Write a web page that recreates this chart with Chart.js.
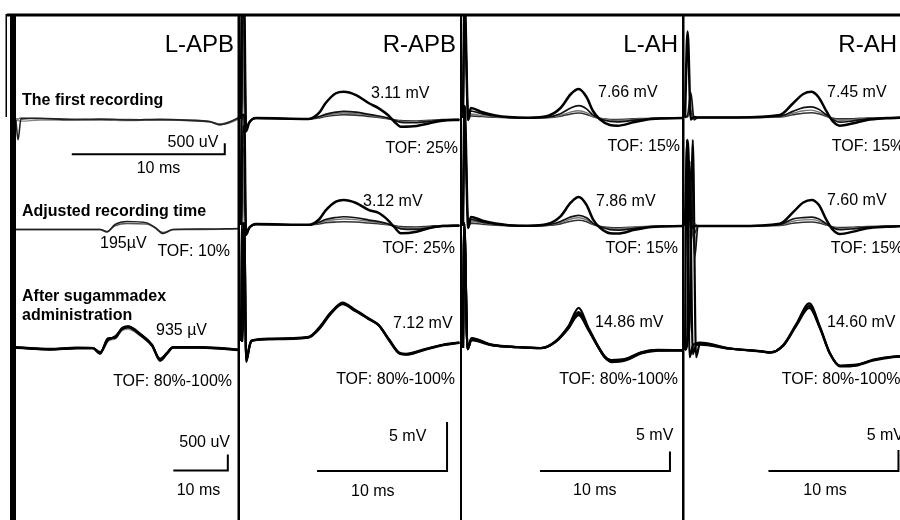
<!DOCTYPE html>
<html>
<head>
<meta charset="utf-8">
<script src="https://cdn.jsdelivr.net/npm/chart.js@4.4.1/dist/chart.umd.min.js"></script>
<style>
  html, body { margin: 0; padding: 0; background: #fff; }
  #wrap { width: 900px; height: 520px; }
</style>
</head>
<body>
<div id="wrap"><canvas id="emg" width="900" height="520"></canvas></div>
<script>
// columns = muscles, rows = recording state
const muscles = ['L-APB', 'R-APB', 'L-AH', 'R-AH'];
const rowLabels = [['The first recording'], ['Adjusted recording time'], ['After sugammadex', 'administration']];

const ampLabels = [
  ['', '195µV', '935 µV'],
  ['3.11 mV', '3.12 mV', '7.12 mV'],
  ['7.66 mV', '7.86 mV', '14.86 mV'],
  ['7.45 mV', '7.60 mV', '14.60 mV']
];
const tofLabels = [
  ['', 'TOF: 10%', 'TOF: 80%-100%'],
  ['TOF: 25%', 'TOF: 25%', 'TOF: 80%-100%'],
  ['TOF: 15%', 'TOF: 15%', 'TOF: 80%-100%'],
  ['TOF: 15%', 'TOF: 15%', 'TOF: 80%-100%']
];

// ---- waveforms: time in ms after stimulus, amplitude in mV ----
// L-APB
const tLapb1 = [0.06, 0.2, 0.39, 1.63, 3.59, 5.56, 7.52, 9.48, 11.44, 12.75, 13.4, 13.92, 14.7];
const lapb1 = [
  [0, -0.9, 0.05, 0.08, 0.02, 0.04, 0.0, 0.03, -0.02, -0.08, -0.22, -0.13, 0.14],
  [0.05, 0.04, 0.1, 0.06, 0.04, 0.02, 0.03, 0.0, 0.01, -0.06, -0.18, -0.1, 0.1],
  [-0.03, -0.03, -0.05, 0.0, -0.02, 0.0, -0.03, 0.02, -0.04, -0.1, -0.2, -0.16, 0.06]
];
const tLapb2 = [0.06, 2.9, 5.56, 6.01, 6.54, 7.32, 8.63, 9.15, 9.67, 10.33, 12.09, 14.7];
const lapb2 = [
  [0.0, 0.0, 0.0, -0.042, 0.083, 0.133, 0.108, 0.033, -0.067, 0.0, 0.008, 0.017],
  [0.0, 0.0, 0.0, -0.03, 0.06, 0.1, 0.09, 0.03, -0.05, 0.0, 0.0, 0.01]
];
const tLapb3 = [0, 6.42, 11.38, 14.31, 15.6, 17.06, 18.35, 19.63, 20.73, 22.94, 25.14, 26.61, 27.89, 28.99, 33.94, 41.28];
const lapb3 = [
  [0.022, -0.041, 0, 0, -0.166, 0.272, 0.334, 0.616, 0.666, 0.4375, 0.094, -0.375, -0.166, 0.022, 0.022, -0.0625],
  [0.03, -0.03, 0.01, 0.0, -0.13, 0.24, 0.36, 0.58, 0.64, 0.41, 0.07, -0.34, -0.15, 0.03, 0.03, -0.05],
  [0.01, -0.05, -0.01, -0.01, -0.18, 0.3, 0.31, 0.62, 0.68, 0.45, 0.1, -0.4, -0.18, 0.01, 0.01, -0.07],
  [0.02, -0.035, 0, 0, -0.15, 0.22, 0.3, 0.55, 0.6, 0.4, 0.08, -0.35, -0.16, 0.02, 0.02, -0.06]
];

// R-APB
const tRapb1 = [0, 0.05, 0.15, 0.25, 0.38, 0.62, 1.15, 5.2, 6.0, 6.5, 7.3, 7.9, 8.85, 9.85, 10.6, 11.3, 11.8, 12.3, 13.5, 14.5, 15.5, 16.8];
const rapb1 = [
  [0, 10, 10, 10, -1.14, -0.36, 0.09, 0, 0.55, 1.43, 2.34, 2.48, 2.18, 1.43, 0.97, 0.36, -0.25, -0.70, -0.64, -0.39, -0.15, -0.09],
  [0, 0, 10, 10, -1.1, -0.35, 0.08, 0, 0.22, 0.42, 0.62, 0.70, 0.62, 0.42, 0.27, 0.08, -0.12, -0.30, -0.34, -0.22, -0.08, -0.06],
  [0, 0, 0, 9, -1.0, -0.3, 0.06, 0, 0.16, 0.32, 0.48, 0.55, 0.49, 0.34, 0.2, 0.05, -0.1, -0.22, -0.26, -0.17, -0.06, -0.05],
  [0, 0, 8, 8, -0.9, -0.3, 0.05, 0, 0.1, 0.22, 0.34, 0.38, 0.35, 0.24, 0.14, 0.03, -0.07, -0.15, -0.18, -0.12, -0.05, -0.04]
];
const tRapb2 = tRapb1;
const rapb2 = [
  [0, 10, 10, 10, -0.9, -0.3, 0.08, 0.02, 0.5, 1.3, 2.12, 2.27, 2.0, 1.35, 1.09, 0.45, -0.2, -0.75, -0.61, -0.27, -0.1, -0.06],
  [0, 0, 9, 9, -0.85, -0.3, 0.06, 0, 0.25, 0.5, 0.68, 0.75, 0.66, 0.45, 0.3, 0.1, -0.15, -0.35, -0.4, -0.25, -0.1, -0.05],
  [0, 0, 0, 8, -0.8, -0.25, 0.05, 0, 0.18, 0.36, 0.5, 0.55, 0.49, 0.33, 0.21, 0.06, -0.1, -0.26, -0.3, -0.19, -0.07, -0.04],
  [0, 0, 7, 7, -0.7, -0.2, 0.04, 0, 0.1, 0.2, 0.27, 0.3, 0.27, 0.18, 0.11, 0.03, -0.06, -0.15, -0.18, -0.11, -0.04, -0.03]
];
const tRapb3 = [0, 0.05, 0.15, 0.25, 0.4, 0.65, 0.8, 2.2, 5.2, 6.0, 6.9, 7.8, 8.8, 9.8, 10.6, 11.4, 12.2, 12.7, 14.0, 15.5, 16.8];
const rapb3 = [
  [0, 12, 12, 12, -2.14, -0.6, 0, 0.2, 0.38, 1.3, 2.83, 3.91, 3.16, 2.32, 1.63, 0.1, -1.26, -1.36, -0.92, -0.41, -0.17],
  [0, 0, 12, 12, -2.0, -0.5, 0.05, 0.25, 0.42, 1.35, 2.9, 3.8, 3.1, 2.28, 1.58, 0.05, -1.3, -1.4, -0.95, -0.45, -0.2],
  [0, 0, 0, 11, -1.9, -0.55, 0.02, 0.18, 0.35, 1.2, 2.75, 3.75, 3.05, 2.25, 1.6, 0.15, -1.2, -1.3, -0.88, -0.38, -0.15]
];

// L-AH
const tLah1 = [0, 0.12, 0.4, 0.6, 1.5, 2.5, 3.5, 5.0, 6.5, 7.5, 8.3, 8.9, 9.5, 10.0, 10.5, 11.3, 11.9, 13.2, 14.5, 16.9];
const lah1 = [
  [0, 25, -0.4, 2.1, 1.2, 0.55, 0.2, 0.05, 0.42, 2.08, 5.0, 6.04, 4.38, 1.46, -0.21, -1.46, -1.6, -0.83, -0.21, 0],
  [0, 25, -0.4, 1.46, 0.85, 0.4, 0.15, 0.03, 0.2, 0.9, 2.1, 2.56, 1.9, 0.6, -0.1, -0.7, -0.8, -0.45, -0.12, 0],
  [0, 24, -0.3, 0.83, 0.5, 0.25, 0.1, 0.02, 0.12, 0.55, 1.25, 1.52, 1.1, 0.35, -0.05, -0.45, -0.5, -0.28, -0.08, 0],
  [0, 23, -0.3, 0.42, 0.3, 0.15, 0.06, 0.01, 0.08, 0.38, 0.85, 1.04, 0.75, 0.25, -0.03, -0.3, -0.32, -0.18, -0.05, 0]
];
const tLah2 = tLah1;
const lah2 = [
  [0, 25, -0.4, 1.9, 1.1, 0.5, 0.18, 0.04, 0.4, 2.0, 4.9, 6.04, 4.4, 1.4, -0.25, -1.5, -1.58, -0.8, -0.2, 0],
  [0, 25, -0.4, 1.4, 0.8, 0.38, 0.13, 0.03, 0.22, 0.95, 1.9, 2.23, 1.7, 0.55, -0.12, -0.75, -0.85, -0.48, -0.13, 0],
  [0, 24, -0.3, 1.0, 0.6, 0.28, 0.1, 0.02, 0.15, 0.7, 1.45, 1.73, 1.3, 0.42, -0.08, -0.5, -0.58, -0.32, -0.09, 0],
  [0, 23, -0.3, 0.6, 0.36, 0.18, 0.07, 0.01, 0.1, 0.45, 1.0, 1.19, 0.9, 0.3, -0.05, -0.34, -0.38, -0.21, -0.06, 0]
];
const tLah3 = [0, 0.1, 0.35, 0.65, 2.2, 4.2, 6.0, 7.1, 8.1, 8.9, 9.6, 10.4, 10.9, 11.4, 12.5, 13.7, 15.0, 16.9];
const lah3 = [
  [0, 32, -0.3, 2.56, 0.85, 0.26, 0, 1.7, 5.54, 10.3, 5.54, 0.41, -2.15, -3.44, -3.0, -1.28, -0.62, -0.62],
  [0, 32, -0.3, 2.4, 0.8, 0.22, -0.05, 1.6, 5.3, 9.2, 5.2, 0.3, -2.3, -3.6, -3.2, -1.4, -0.7, -0.6],
  [0, 31, -0.3, 2.2, 0.75, 0.2, -0.05, 1.55, 5.1, 8.4, 4.9, 0.2, -2.4, -3.3, -2.9, -1.2, -0.55, -0.6],
  [0, 31, -0.3, 2.0, 0.7, 0.2, 0, 1.5, 5.0, 8.8, 5.0, 0.3, -2.2, -3.1, -2.8, -1.1, -0.5, -0.55]
];

// R-AH
const tRah1 = [0, 0.2, 0.45, 0.7, 1.0, 4.0, 7.3, 8.3, 9.1, 9.7, 10.25, 10.9, 11.4, 11.9, 12.95, 14.0, 15.5, 17.0];
const rah1 = [
  [0, 18.3, -0.4, 0.1, 0, 0, 0.53, 2.98, 5.0, 5.49, 4.43, 1.23, -0.89, -1.74, -1.23, -0.53, -0.17, 0],
  [0, 0.5, 5.3, -0.5, 0, 0, 0.3, 1.3, 2.1, 2.28, 1.8, 0.5, -0.45, -1.0, -0.7, -0.3, -0.1, 0],
  [0, 0.3, 1.5, -0.3, 0, 0, 0.2, 0.9, 1.45, 1.56, 1.2, 0.35, -0.3, -0.6, -0.45, -0.2, -0.05, 0],
  [0, 0.2, 1.0, -0.2, 0, 0, 0.12, 0.6, 0.92, 1.0, 0.8, 0.22, -0.18, -0.3, -0.25, -0.1, -0.03, 0]
];
const tRah2 = [0, 0.2, 0.45, 0.75, 1.0, 4.0, 7.3, 8.3, 9.1, 9.75, 10.3, 10.9, 11.4, 11.9, 12.95, 14.0, 15.5, 17.0];
const rah2 = [
  [0, 18.3, -0.5, 0, 0, 0, 0.5, 2.9, 5.0, 5.53, 4.45, 1.2, -0.9, -1.7, -1.2, -0.5, -0.17, 0],
  [0, 3, 9.8, -6.6, 0, 0, 0.3, 1.5, 1.8, 1.9, 1.5, 0.4, -0.4, -0.8, -0.6, -0.25, -0.08, 0],
  [0, 12, -3, 0.5, 0, 0, 0.2, 1.0, 1.3, 1.35, 1.05, 0.3, -0.3, -0.55, -0.4, -0.17, -0.05, 0],
  [0, 6, 2, -1.5, 0, 0, 0.12, 0.6, 0.8, 0.85, 0.65, 0.2, -0.2, -0.35, -0.25, -0.1, -0.03, 0]
];
const tRah3 = [0, 0.15, 0.35, 0.6, 0.85, 1.15, 3.46, 6.02, 6.54, 7.56, 8.59, 9.56, 10.38, 11.15, 11.92, 13.2, 14.5, 16.0, 17.3];
const rah3 = [
  [0, 50, -1.7, 1.0, 1.6, 1.74, 0.4, -0.4, -0.64, 1.19, 6.36, 11.12, 5.55, -0.79, -3.81, -3.57, -2.38, -1.6, -1.43],
  [0, 2, 6, 50, -1.7, 1.5, 0.35, -0.4, -0.6, 1.1, 6.1, 10.5, 5.3, -0.9, -3.9, -3.7, -2.5, -1.7, -1.5],
  [0, 1, 45, -1.0, 1.2, 1.3, 0.3, -0.35, -0.55, 1.0, 5.9, 10.0, 5.2, -0.85, -3.7, -3.5, -2.3, -1.55, -1.4]
];

// panel order: column * 3 + row
const panelTimes = [tLapb1, tLapb2, tLapb3, tRapb1, tRapb2, tRapb3, tLah1, tLah2, tLah3, tRah1, tRah2, tRah3];
const panelTraces = [lapb1, lapb2, lapb3, rapb1, rapb2, rapb3, lah1, lah2, lah3, rah1, rah2, rah3];

// scale bars: panel, start ms, start mV, length ms, length mV
const barPanels = [0, 2, 5, 8, 11];
const barStartMs = [3.71, 29.05, 5.85, 5.92, 6.42];
const barStartMv = [-1.56, -3.83, -13.27, -31.54, -28.8];
const barMs = [10, 10, 10, 10, 10];
const barMv = [0.5, 0.5, 5, 5, 5];

// ---- layout (pixels) ----
const AREA = { left: 0, top: 14, right: 900, bottom: 520 };
const X0 = [15, 15, 15, 241, 241, 241, 463, 463, 463, 685, 685, 685];
const PX_PER_MS = [15.3, 15.3, 5.45, 13, 13, 13, 13, 13, 13, 13, 13, 13];
const Y0 = [120, 229.5, 348, 119, 225, 341, 118, 226, 348, 117.5, 226, 350];
const PX_PER_MV = [22, 60, 32, 11, 11, 9.8, 4.8, 4.8, 3.9, 4.7, 4.7, 4.2];

function styleFor(panel, k) {
  const row = panel % 3;
  if (panel < 2) return { color: ['#222', '#555', '#888'][k] || '#999', width: k === 0 ? 1.6 : 1.3 };
  if (row === 2) return { color: k === 3 && panel === 2 ? '#999' : '#000', width: 2.2 };
  return { color: ['#000', '#111', '#777', '#333'][k], width: [2.5, 1.7, 1.4, 1.6][k] };
}

const datasets = [];
const scales = {};
panelTraces.forEach((traces, p) => {
  scales['x' + p] = {
    type: 'linear', display: false, bounds: 'data',
    min: (AREA.left - X0[p]) / PX_PER_MS[p], max: (AREA.right - X0[p]) / PX_PER_MS[p]
  };
  scales['y' + p] = {
    type: 'linear', display: false, bounds: 'data',
    min: -(AREA.bottom - Y0[p]) / PX_PER_MV[p], max: (Y0[p] - AREA.top) / PX_PER_MV[p]
  };
  traces.forEach((vals, k) => {
    const st = styleFor(p, k);
    datasets.push({
      data: panelTimes[p].map((t, i) => ({ x: t, y: vals[i] })),
      xAxisID: 'x' + p, yAxisID: 'y' + p,
      borderColor: st.color, borderWidth: st.width,
      pointRadius: 0, fill: false,
      cubicInterpolationMode: 'monotone',
      order: k === 0 ? 0 : k + 1
    });
  });
});

barPanels.forEach((p, i) => {
  const t = barStartMs[i], v = barStartMv[i];
  datasets.push({
    data: [{ x: t, y: v }, { x: t + barMs[i], y: v }, { x: t + barMs[i], y: v + barMv[i] }],
    xAxisID: 'x' + p, yAxisID: 'y' + p,
    borderColor: '#000', borderWidth: 2, pointRadius: 0, fill: false, tension: 0, order: 0
  });
});

// frame lines and text
const FONT = '"Liberation Sans", Arial, Helvetica, sans-serif';
const titleRight = [234, 456, 678, 897];
const rowLabelPos = [[22, 101], [22, 212], [22, 297, 316]];
const ampPos = [
  [null, [100, 244], [156, 331]],
  [[371, 94], [363, 201.5], [393, 324]],
  [[598, 92.5], [596, 201.5], [595, 323]],
  [[827, 92.5], [827, 200.5], [827, 323]]
];
// right edge for the first three columns, left edge for the last one
const tofPos = [
  [null, [230, 251.5], [232, 381.5]],
  [[458, 148.5], [455, 248.5], [455, 380]],
  [[680, 147], [678, 248.5], [678, 380]],
  [[831.7, 147], [830.7, 248.5], [781.7, 380]]
];
const barText = [
  ['500 uV', 218.3, 142.5, 'right'], ['10 ms', 136.7, 169, 'left'],
  ['500 uV', 230, 442.5, 'right'], ['10 ms', 176.7, 491, 'left'],
  ['5 mV', 389, 436.5, 'left'], ['10 ms', 351, 491.5, 'left'],
  ['5 mV', 636, 436, 'left'], ['10 ms', 573, 491, 'left'],
  ['5 mV', 866.7, 436, 'left'], ['10 ms', 803.3, 491, 'left']
];

const figurePlugin = {
  id: 'figure',
  afterDatasetsDraw(chart) {
    const ctx = chart.ctx;
    ctx.save();
    ctx.fillStyle = '#000';
    // frame: top rule, left bar, column dividers
    ctx.fillRect(7, 13.5, 893, 3);
    ctx.fillRect(10, 14, 6, 506);
    ctx.fillRect(5.5, 14, 1.5, 103);
    ctx.fillRect(237.5, 14, 2.5, 506);
    ctx.fillRect(460, 14, 2, 506);
    ctx.fillRect(682, 14, 2.5, 506);

    ctx.textBaseline = 'middle';
    ctx.font = '24px ' + FONT;
    ctx.textAlign = 'right';
    muscles.forEach((m, c) => ctx.fillText(m, titleRight[c], 45));

    ctx.font = 'bold 16px ' + FONT;
    ctx.textAlign = 'left';
    rowLabels.forEach((lines, r) => {
      lines.forEach((s, j) => ctx.fillText(s, rowLabelPos[r][0], rowLabelPos[r][1 + j]));
    });

    ctx.font = '16px ' + FONT;
    ampLabels.forEach((col, c) => col.forEach((s, r) => {
      if (!s) return;
      ctx.textAlign = 'left';
      ctx.fillText(s, ampPos[c][r][0], ampPos[c][r][1]);
    }));
    tofLabels.forEach((col, c) => col.forEach((s, r) => {
      if (!s) return;
      ctx.textAlign = c === 3 ? 'left' : 'right';
      ctx.fillText(s, tofPos[c][r][0], tofPos[c][r][1]);
    }));
    barText.forEach(([s, x, y, a]) => {
      ctx.textAlign = a;
      ctx.fillText(s, x, y);
    });
    ctx.restore();
  }
};

new Chart(document.getElementById('emg').getContext('2d'), {
  type: 'line',
  data: { datasets: datasets },
  options: {
    responsive: false,
    animation: false,
    devicePixelRatio: 1,
    layout: { padding: { top: AREA.top, left: 0, right: 0, bottom: 0 } },
    plugins: { legend: { display: false }, tooltip: { enabled: false }, title: { display: false } },
    scales: scales
  },
  plugins: [figurePlugin]
});
</script>
</body>
</html>
